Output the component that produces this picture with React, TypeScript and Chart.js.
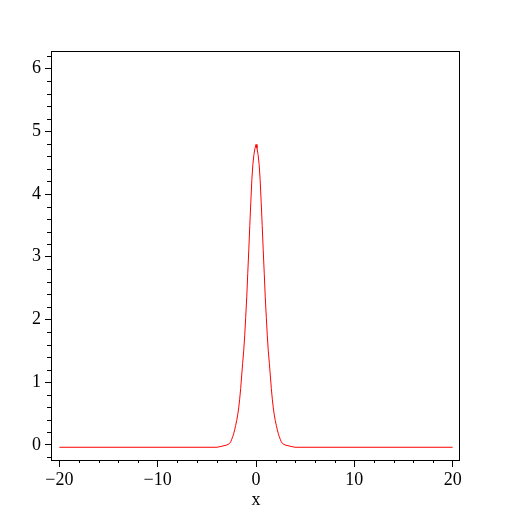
import React, { useEffect, useRef } from "react";
import { Chart, registerables } from "chart.js";
Chart.register(...registerables);

const xValues = [
  -20, -3.97, -3.46, -2.95, -2.72, -2.57, -2.47, -2.37, -2.27, -2.17, -2.07, -1.96, -1.86, -1.76,
  -1.66, -1.56, -1.46, -1.36, -1.25, -1.15, -1.05, -0.94, -0.84, -0.73, -0.63, -0.53, -0.42,
  -0.32, -0.21, -0.1, 0, 0.1, 0.21, 0.32, 0.42, 0.53, 0.63, 0.73, 0.84, 0.94, 1.05, 1.15, 1.25,
  1.36, 1.46, 1.56, 1.66, 1.76, 1.86, 1.96, 2.07, 2.17, 2.27, 2.37, 2.47, 2.57, 2.72, 2.95, 3.46,
  3.97, 20,
];
const yValues = [
  -0.037, -0.037, -0.02, 0.0, 0.02, 0.05, 0.09, 0.13, 0.18, 0.24, 0.31, 0.39, 0.48, 0.59, 0.73,
  0.9, 1.1, 1.3, 1.5, 1.74, 2.03, 2.36, 2.73, 3.12, 3.5, 3.86, 4.23, 4.47, 4.63, 4.73, 4.79, 4.73,
  4.63, 4.47, 4.23, 3.86, 3.5, 3.12, 2.73, 2.36, 2.03, 1.74, 1.5, 1.3, 1.1, 0.9, 0.73, 0.59, 0.48,
  0.39, 0.31, 0.24, 0.18, 0.13, 0.09, 0.05, 0.02, 0.0, -0.02, -0.037, -0.037,
];

const xMajorTicks = [-20, -10, 0, 10, 20];
const yMajorTicks = [0, 1, 2, 3, 4, 5, 6];
const xMinorTicks = [-18, -16, -14, -12, -8, -6, -4, -2, 2, 4, 6, 8, 12, 14, 16, 18];
const yMinorTicks = [
  -0.2, 0.2, 0.4, 0.6, 0.8, 1.2, 1.4, 1.6, 1.8, 2.2, 2.4, 2.6, 2.8, 3.2, 3.4, 3.6, 3.8, 4.2, 4.4,
  4.6, 4.8, 5.2, 5.4, 5.6, 5.8, 6.2,
];
const xTitle = "x";

const FONT = { family: "'Liberation Serif', 'DejaVu Serif', serif", size: 18 };

const framePlugin = {
  id: "frame",
  afterDraw(chart: any) {
    const { ctx, chartArea, scales } = chart;
    const { left, top, right, bottom } = chartArea;
    ctx.save();
    ctx.strokeStyle = "#000";
    ctx.lineWidth = 1;
    ctx.strokeRect(left - 0.5, top + 0.5, right - left, bottom - top);
    ctx.beginPath();
    for (const v of xMinorTicks) {
      const px = Math.round(scales.x.getPixelForValue(v)) + 0.5;
      ctx.moveTo(px, bottom);
      ctx.lineTo(px, bottom + 3);
    }
    for (const v of yMinorTicks) {
      const py = Math.round(scales.y.getPixelForValue(v)) + 0.5;
      ctx.moveTo(left, py);
      ctx.lineTo(left - 5, py);
    }
    ctx.stroke();
    ctx.restore();
  },
};

const fmt = (v: number) => (v < 0 ? "\u2212" + Math.abs(v) : String(v));

export default function App() {
  const ref = useRef<HTMLCanvasElement | null>(null);
  useEffect(() => {
    if (!ref.current) return;
    const chart = new Chart(ref.current, {
      type: "scatter",
      data: {
        datasets: [
          {
            data: xValues.map((x, i) => ({ x, y: yValues[i] })),
            showLine: true,
            borderColor: "#ff0000",
            borderWidth: 1,
            pointRadius: 0,
            tension: 0,
          },
        ],
      },
      options: {
        animation: false,
        responsive: false,
        devicePixelRatio: 1,
        events: [],
        layout: { padding: { top: 51, right: 52, left: 0, bottom: 0 } },
        plugins: { legend: { display: false }, tooltip: { enabled: false } },
        scales: {
          x: {
            type: "linear",
            min: -20.75,
            max: 20.75,
            afterFit: (s: any) => {
              s.height = 52;
            },
            afterBuildTicks: (s: any) => {
              s.ticks = xMajorTicks.map((v) => ({ value: v }));
            },
            grid: { drawOnChartArea: false, drawTicks: true, tickLength: 7, color: "#000" },
            border: { display: false },
            ticks: {
              color: "#000",
              font: FONT,
              padding: 2,
              maxRotation: 0,
              autoSkip: false,
              callback: (v: any) => fmt(Number(v)),
            },
            title: {
              display: true,
              text: xTitle,
              color: "#000",
              font: FONT,
              padding: { top: 0, bottom: 1 },
            },
          },
          y: {
            type: "linear",
            min: -0.24,
            max: 6.28,
            afterFit: (s: any) => {
              s.width = 52;
            },
            afterBuildTicks: (s: any) => {
              s.ticks = yMajorTicks.map((v) => ({ value: v }));
            },
            grid: { drawOnChartArea: false, drawTicks: true, tickLength: 7, color: "#000" },
            border: { display: false },
            ticks: {
              color: "#000",
              font: FONT,
              padding: 4,
              autoSkip: false,
              callback: (v: any) => fmt(Number(v)),
            },
          },
        },
      },
      plugins: [framePlugin],
    });
    return () => chart.destroy();
  }, []);
  return (
    <div style={{ position: "fixed", left: 0, top: 0, width: 512, height: 512, background: "#fff" }}>
      <canvas ref={ref} width={512} height={512} style={{ width: 512, height: 512 }} />
    </div>
  );
}
